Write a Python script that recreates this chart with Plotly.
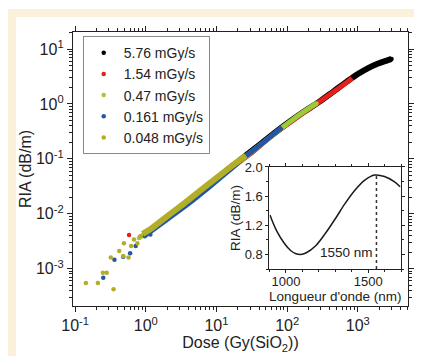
import plotly.graph_objects as go

FONT = "Liberation Sans, Arial, sans-serif"

# ---------------- main plot data (dose in Gy(SiO2), RIA in dB/m) ----------------
# 5.76 mGy/s
dose_576 = [5, 8, 13, 20, 35, 60, 100, 170, 280, 450, 700, 1000, 1400, 1900, 2500, 3000]
ria_576 = [0.021, 0.034, 0.057, 0.088, 0.155, 0.268, 0.44, 0.71, 1.08, 1.68, 2.55, 3.5, 4.5, 5.4, 6.1, 6.6]
# 1.54 mGy/s
dose_154 = [1.0, 2, 4, 8, 15, 30, 60, 120, 250, 450, 650, 830]
ria_154 = [0.0045, 0.0085, 0.016, 0.033, 0.063, 0.123, 0.26, 0.5, 0.97, 1.65, 2.3, 2.95]
dose_154_pts = [0.58]
ria_154_pts = [0.0041]
# 0.47 mGy/s
dose_047 = [0.8, 1.5, 3, 6, 12, 25, 50, 85, 130, 200, 260]
ria_047 = [0.0036, 0.0066, 0.0125, 0.025, 0.05, 0.106, 0.215, 0.37, 0.56, 0.82, 1.02]
# 0.161 mGy/s
dose_0161 = [1.0, 2, 4, 8, 15, 26, 40, 60, 85]
ria_0161 = [0.0041, 0.0079, 0.0152, 0.031, 0.061, 0.112, 0.172, 0.262, 0.375]
dose_0161_pts = [0.25, 0.36, 0.48, 0.6, 0.72, 0.97, 1.16]
ria_0161_pts = [0.00068, 0.00146, 0.00164, 0.0019, 0.0026, 0.0039, 0.0042]
# 0.048 mGy/s
dose_0048 = [0.9, 1.2, 2, 3.5, 6, 10, 16, 22, 26]
ria_0048 = [0.0043, 0.0054, 0.009, 0.0155, 0.027, 0.045, 0.072, 0.098, 0.115]
dose_0048_pts = [0.142, 0.21, 0.247, 0.28, 0.35, 0.32, 0.42, 0.48, 0.57, 0.49, 0.62, 0.68, 0.76, 0.84]
ria_0048_pts = [0.00055, 0.00055, 0.00084, 0.00084, 0.00042, 0.0016, 0.0021, 0.0017, 0.0016, 0.0029, 0.0026, 0.0034, 0.0029, 0.0039]

series_names = ["5.76 mGy/s", "1.54 mGy/s", "0.47 mGy/s", "0.161 mGy/s", "0.048 mGy/s"]
series_colors = ["#000000", "#e41f1c", "#9ccb38", "#2456a6", "#b2ae28"]

x_tickvals = [0.1, 1, 10, 100, 1000]
x_ticktext = ["10<sup>-1</sup>", "10<sup>0</sup>", "10<sup>1</sup>", "10<sup>2</sup>", "10<sup>3</sup>"]
y_tickvals = [0.001, 0.01, 0.1, 1, 10]
y_ticktext = ["10<sup>-3</sup>", "10<sup>-2</sup>", "10<sup>-1</sup>", "10<sup>0</sup>", "10<sup>1</sup>"]

# ---------------- inset data ----------------
wavelength = [903, 942, 991, 1030, 1061, 1090, 1121, 1181, 1240, 1300, 1360, 1419, 1479, 1539, 1599, 1658, 1694]
ria_wl = [1.34, 1.13, 0.95, 0.85, 0.81, 0.80, 0.82, 0.92, 1.09, 1.29, 1.50, 1.68, 1.82, 1.89, 1.87, 1.80, 1.73]
marker_nm = 1550
marker_peak = 1.89
inset_ymin = 0.6

fig = go.Figure()

bands = [
    (dose_576, ria_576, dose_576, ria_576, 6),
    (dose_154, ria_154, dose_154_pts, ria_154_pts, 5),
    (dose_047, ria_047, [], [], 5),
    (dose_0161, ria_0161, dose_0161_pts, ria_0161_pts, 5),
    (dose_0048, ria_0048, dose_0048_pts, ria_0048_pts, 6),
]
for (db, rb, dp, rp, w), name, col in zip(bands, series_names, series_colors):
    fig.add_trace(go.Scatter(x=db, y=rb, mode="lines", line=dict(color=col, width=w, shape="spline"),
                             showlegend=False, hoverinfo="skip"))
    px = dp if dp else db
    py = rp if rp else rb
    fig.add_trace(go.Scatter(x=px, y=py, mode="markers", marker=dict(color=col, size=4.5), name=name))

# inset
fig.add_trace(go.Scatter(x=wavelength, y=ria_wl, xaxis="x2", yaxis="y2", mode="lines",
                         line=dict(color="#1a1a1a", width=1.5, shape="spline"), showlegend=False))
fig.add_trace(go.Scatter(x=[marker_nm, marker_nm], y=[inset_ymin, marker_peak], xaxis="x2", yaxis="y2",
                         mode="lines", line=dict(color="#333333", width=1.5, dash="3px,3px"), showlegend=False))

minor_log = [k * 10 ** e for e in range(-1, 4) for k in range(2, 10)]
minor_log_y = [k * 10 ** e for e in range(-4, 2) for k in range(2, 10)]

axis_common = dict(showline=True, linecolor="#222", linewidth=1.3, mirror="ticks", ticks="outside",
                   tickcolor="#222", showgrid=False, zeroline=False)

fig.update_layout(
    width=414, height=348, autosize=False,
    margin=dict(l=65, r=8, t=24, b=50),
    paper_bgcolor="white", plot_bgcolor="white",
    font=dict(family=FONT, size=15, color="#222"),
    xaxis=dict(type="log", range=[-1.03, 3.71], tickmode="array", tickvals=x_tickvals, ticktext=x_ticktext,
               ticklen=5, tickwidth=1.2, tickfont=dict(size=16),
               minor=dict(tickmode="array", tickvals=minor_log, ticks="outside", ticklen=3, tickwidth=1, tickcolor="#222"),
               title=dict(text="Dose (Gy(SiO<sub>2</sub>))", font=dict(size=16), standoff=2),
               **axis_common),
    yaxis=dict(type="log", range=[-3.68, 1.31], tickmode="array", tickvals=y_tickvals, ticktext=y_ticktext,
               ticklen=5, tickwidth=1.2, tickfont=dict(size=16),
               minor=dict(tickmode="array", tickvals=minor_log_y, ticks="outside", ticklen=3, tickwidth=1, tickcolor="#222"),
               title=dict(text="RIA (dB/m)", font=dict(size=16), standoff=0),
               **axis_common),
    xaxis2=dict(domain=[0.5865, 0.9795], anchor="y2", range=[900, 1700], tickmode="linear", tick0=1000, dtick=500,
                ticklen=3, tickwidth=1, tickfont=dict(size=13), ticklabelstandoff=-3,
                minor=dict(dtick=100, ticks="outside", ticklen=2, tickcolor="#222"),
                title=dict(text="Longueur d'onde (nm)", font=dict(size=13.5), standoff=0),
                **axis_common),
    yaxis2=dict(domain=[0.135, 0.5073], anchor="x2", range=[0.6, 2.0], tickmode="linear", tick0=0.8, dtick=0.4,
                tickformat=".1f", ticklen=3, tickwidth=1, tickfont=dict(size=13),
                minor=dict(dtick=0.2, ticks="outside", ticklen=2, tickcolor="#222"),
                title=dict(text="RIA (dB/m)", font=dict(size=13.5), standoff=0),
                **axis_common),
    legend=dict(x=0.029, y=0.985, xanchor="left", yanchor="top", bgcolor="white",
                bordercolor="#8a8a8a", borderwidth=1, font=dict(size=14), tracegroupgap=0),
    annotations=[dict(x=marker_nm, y=0.83, xref="x2", yref="y2", text="1550 nm", showarrow=False,
                      xanchor="right", yanchor="middle", xshift=-1, font=dict(size=13.5))],
    shapes=[
        dict(type="rect", xref="paper", yref="paper", x0=-0.1965, x1=1.2, y0=-0.2, y1=1.0839,
             fillcolor="#fbf0d9", line=dict(width=0), layer="below"),
        dict(type="rect", xref="paper", yref="paper", x0=-0.170, x1=1.2, y0=-0.2, y1=1.0547,
             fillcolor="white", line=dict(width=0), layer="below"),
    ],
)

fig.write_html("out.html")
